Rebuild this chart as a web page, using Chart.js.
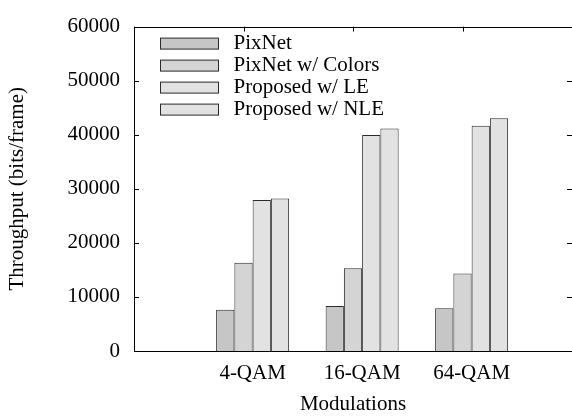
<!DOCTYPE html>
<html>
<head>
<meta charset="utf-8">
<title>Throughput per modulation</title>
<script src="https://cdn.jsdelivr.net/npm/chart.js@4.4.1/dist/chart.umd.min.js"></script>
<style>
  html, body { margin: 0; padding: 0; background: #fff; }
  #wrap { width: 572px; height: 417px; }
</style>
</head>
<body>
<div id="wrap"><canvas id="chart"></canvas></div>
<script>
// Throughput (bits/frame) per modulation

const modulations = ['4-QAM', '16-QAM', '64-QAM'];
const seriesNames = ['PixNet', 'PixNet w/ Colors', 'Proposed w/ LE', 'Proposed w/ NLE'];
const pixnet = [7650, 8300, 7900];
const pixnetColors = [16300, 15300, 14350];
const proposedLE = [27950, 39950, 41650];
const proposedNLE = [28200, 41150, 43050];
const yTicks = [0, 10000, 20000, 30000, 40000, 50000, 60000];

const fills = ['#c6c6c6', '#d4d4d4', '#e2e2e2', '#e2e2e2'];
const edge = '#2a2a2a';
const FONT = '"Liberation Serif", "Times New Roman", serif';
const font = { family: FONT, size: 21 };

// gnuplot's x range is [-1:3] and its tics sit 1/12 left of the cluster centres
const ticShift = -1 / 12;
const xFrom = -1;
const xTo = 3;

function toPoints(values) {
  return values.map((v, i) => ({ x: i, y: v }));
}

const allSeries = [pixnet, pixnetColors, proposedLE, proposedNLE];

// Frame with inward tic marks on all four sides (drawn under the bars)
const framePlugin = {
  id: 'frame',
  beforeDatasetsDraw(chart) {
    const { ctx, chartArea: a, scales } = chart;
    const tic = 5;
    ctx.save();
    ctx.strokeStyle = '#000';
    ctx.lineWidth = 1;
    ctx.beginPath();
    yTicks.forEach(v => {
      const y = Math.round(scales.y.getPixelForValue(v)) + 0.5;
      ctx.moveTo(a.left, y); ctx.lineTo(a.left + tic, y);
      ctx.moveTo(a.right, y); ctx.lineTo(a.right - tic, y);
    });
    for (let g = xFrom; g <= xTo; g++) {
      const x = Math.round(scales.x.getPixelForValue(g + ticShift)) + 0.5;
      ctx.moveTo(x, a.top); ctx.lineTo(x, a.top + tic);
      ctx.moveTo(x, a.bottom); ctx.lineTo(x, a.bottom - tic);
    }
    ctx.stroke();
    ctx.restore();
  },
  afterDatasetsDraw(chart) {
    const { ctx, chartArea: a } = chart;
    ctx.save();
    ctx.strokeStyle = '#000';
    ctx.lineWidth = 1;
    ctx.strokeRect(Math.round(a.left) + 0.5, Math.round(a.top) + 0.5,
      Math.round(a.right - a.left), Math.round(a.bottom - a.top));
    ctx.restore();
  }
};

// Legend in the top-left corner of the plot, gnuplot style
const keyPlugin = {
  id: 'key',
  afterDraw(chart) {
    const { ctx, chartArea: a } = chart;
    const boxX = a.left + 26.5;
    const boxW = 58;
    const boxH = 11;
    ctx.save();
    ctx.font = '21px ' + FONT;
    ctx.textBaseline = 'middle';
    ctx.textAlign = 'left';
    chart.data.datasets.forEach((ds, i) => {
      const cy = a.top + 17 + i * 22;
      ctx.fillStyle = ds.backgroundColor;
      ctx.fillRect(boxX, cy - boxH / 2, boxW, boxH);
      ctx.strokeStyle = edge;
      ctx.lineWidth = 1;
      ctx.strokeRect(boxX, cy - boxH / 2, boxW, boxH);
      ctx.fillStyle = '#000';
      ctx.fillText(ds.label, boxX + boxW + 15, cy);
    });
    ctx.restore();
  }
};

new Chart(document.getElementById('chart'), {
  type: 'bar',
  data: {
    datasets: seriesNames.map((name, i) => ({
      label: name,
      data: toPoints(allSeries[i]),
      backgroundColor: fills[i],
      borderColor: edge,
      borderWidth: 1,
      categoryPercentage: 4 / 6,
      barPercentage: 1
    }))
  },
  options: {
    responsive: true,
    maintainAspectRatio: false,
    animation: false,
    layout: { padding: { left: 0, top: 18, right: -2, bottom: 0 } },
    plugins: {
      legend: { display: false },
      tooltip: { enabled: false }
    },
    scales: {
      x: {
        type: 'linear',
        offset: false,
        min: xFrom + ticShift,
        max: xTo + ticShift,
        afterBuildTicks: axis => {
          axis.ticks = modulations.map((m, i) => ({ value: i }));
        },
        afterFit: scale => { scale.height = 66; },
        ticks: {
          callback: v => modulations[v],
          autoSkip: false,
          maxRotation: 0,
          padding: 10,
          font: font,
          color: '#000'
        },
        grid: { display: false, drawTicks: false, offset: false },
        border: { display: false },
        title: { display: true, text: 'Modulations', font: font, color: '#000', padding: 0 }
      },
      y: {
        min: 0,
        max: 60000,
        afterBuildTicks: axis => {
          axis.ticks = yTicks.map(v => ({ value: v }));
        },
        afterFit: scale => { scale.width = 134; },
        ticks: {
          callback: v => String(v),
          padding: 14,
          font: font,
          color: '#000'
        },
        grid: { display: false, drawTicks: false },
        border: { display: false },
        title: {
          display: true,
          text: 'Throughput (bits/frame)',
          font: font,
          color: '#000',
          padding: { top: 5, bottom: 0 }
        }
      }
    }
  },
  plugins: [framePlugin, keyPlugin]
});
</script>
</body>
</html>
